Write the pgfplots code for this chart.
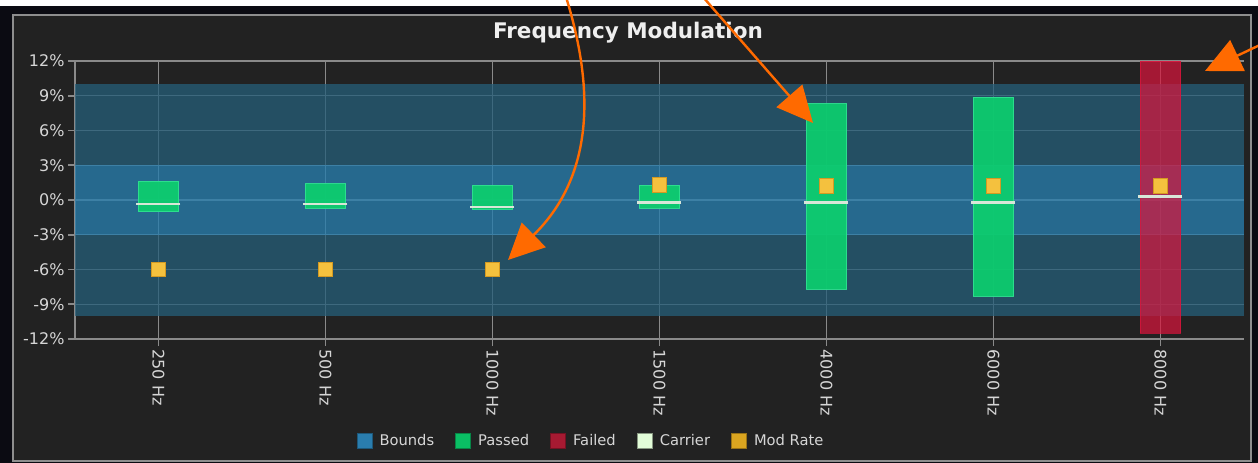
\documentclass[border=0pt]{standalone}
\usepackage{pgfplots}
\pgfplotsset{compat=1.18}
\usepackage{pgfplotstable}
\usepackage{fontspec}
\setmainfont{DejaVu Sans}
\usetikzlibrary{arrows.meta}

\definecolor{bgdark}{HTML}{0B0B12}
\definecolor{panel}{HTML}{222222}
\definecolor{framegray}{HTML}{8E8E8E}
\definecolor{gridgray}{HTML}{8A8A8A}
\definecolor{outerband}{HTML}{255F7A}
\definecolor{innerband}{HTML}{287EAD}
\definecolor{passgreen}{HTML}{0CCF6E}
\definecolor{passedge}{HTML}{2FE090}
\definecolor{failred}{HTML}{DC143C}
\definecolor{carrierc}{HTML}{D8E6D8}
\definecolor{modfill}{HTML}{F4C13E}
\definecolor{moddraw}{HTML}{D49A22}
\definecolor{labelgray}{HTML}{D6D6D6}
\definecolor{titlec}{HTML}{EFEFEF}
\definecolor{annot}{HTML}{FF6A00}
\definecolor{legbounds}{HTML}{2A7DAE}
\definecolor{legpassed}{HTML}{0ABE64}
\definecolor{legfailed}{HTML}{A61A32}
\definecolor{legcarrier}{HTML}{E2FCD8}
\definecolor{legmod}{HTML}{DAA520}

\pgfplotstableread{
x lo hi carrier mod
0 -1.0 1.6 -0.35 -6.0
1 -0.7 1.4 -0.35 -6.0
2 -0.8 1.3 -0.60 -6.0
3 -0.7 1.3 -0.25 1.3
4 -7.7 8.3 -0.25 1.2
5 -8.3 8.9 -0.25 1.2
6 -11.5 12.0 0.30 1.2
}\datatable

\pgfplotsset{
  sqlegend/.style={legend image code/.code={%
      \draw[##1, line width=1pt] (0pt,-7.5pt) rectangle (15pt,7.5pt);}},
}

\begin{document}
\begin{tikzpicture}[x=1pt,y=1pt]
\useasboundingbox (0,0) rectangle (1258,463);
\fill[white] (0,0) rectangle (1258,463);
\fill[bgdark] (0,0) rectangle (1258,457);
\draw[framegray, line width=2pt, fill=panel] (13,2) rectangle (1251,448);

\begin{axis}[
  at={(75pt,124pt)}, anchor=south west,
  scale only axis, width=1169pt, height=278pt,
  xmin=-0.5, xmax=6.5, ymin=-12, ymax=12,
  xtick={0,1,2,3,4,5,6},
  xticklabels={250 Hz,500 Hz,1000 Hz,1500 Hz,4000 Hz,6000 Hz,8000 Hz},
  ytick={-12,-9,-6,-3,0,3,6,9,12},
  yticklabel={\pgfmathprintnumber{\tick}\%},
  /pgf/number format/assume math mode=true,
  axis x line*=bottom, axis y line*=left,
  axis line style={gridgray, line width=1.6pt, -},
  tick style={gridgray, line width=1.6pt},
  tick align=outside, major tick length=7pt,
  grid=major, major grid style={gridgray, line width=1.4pt},
  tick label style={text=labelgray, font=\fontsize{16}{19}\selectfont},
  x tick label style={rotate=-90, anchor=west},
  title={Frequency Modulation},
  title style={at={(0.473,1)}, anchor=center, yshift=22pt, text=titlec,
    font=\bfseries\fontsize{21.5}{25}\selectfont},
  legend columns=5,
  legend style={at={(0.4414,-0.367)}, anchor=center, draw=none, fill=none,
    text=labelgray, font=\fontsize{14.7}{17}\selectfont,
    /tikz/every odd column/.append style={column sep=5pt},
    /tikz/every even column/.append style={column sep=19pt}},
  legend cell align=left,
  clip=true,
]
% bounds bands
\addplot[forget plot, draw=none, fill=outerband, fill opacity=0.75] coordinates {(-0.5,3) (6.5,3) (6.5,10) (-0.5,10)} -- cycle;
\addplot[forget plot, draw=none, fill=outerband, fill opacity=0.75] coordinates {(-0.5,-10) (6.5,-10) (6.5,-3) (-0.5,-3)} -- cycle;
\addplot[forget plot, draw=none, fill=innerband, fill opacity=0.78] coordinates {(-0.5,-3) (6.5,-3) (6.5,3) (-0.5,3)} -- cycle;
% passed bars
\addplot[forget plot, fill=passgreen, draw=passedge, line width=0.8pt, opacity=0.92] coordinates {(-0.12,-1.0) (0.12,-1.0) (0.12,1.6) (-0.12,1.6)} -- cycle;
\addplot[forget plot, fill=passgreen, draw=passedge, line width=0.8pt, opacity=0.92] coordinates {(0.88,-0.7) (1.12,-0.7) (1.12,1.4) (0.88,1.4)} -- cycle;
\addplot[forget plot, fill=passgreen, draw=passedge, line width=0.8pt, opacity=0.92] coordinates {(1.88,-0.8) (2.12,-0.8) (2.12,1.3) (1.88,1.3)} -- cycle;
\addplot[forget plot, fill=passgreen, draw=passedge, line width=0.8pt, opacity=0.92] coordinates {(2.88,-0.7) (3.12,-0.7) (3.12,1.3) (2.88,1.3)} -- cycle;
\addplot[forget plot, fill=passgreen, draw=passedge, line width=0.8pt, opacity=0.92] coordinates {(3.88,-7.7) (4.12,-7.7) (4.12,8.3) (3.88,8.3)} -- cycle;
\addplot[forget plot, fill=passgreen, draw=passedge, line width=0.8pt, opacity=0.92] coordinates {(4.88,-8.3) (5.12,-8.3) (5.12,8.9) (4.88,8.9)} -- cycle;
% failed bar
\addplot[forget plot, fill=failred, draw=failred, line width=0.8pt, opacity=0.7] coordinates {(5.88,-11.5) (6.12,-11.5) (6.12,12) (5.88,12)} -- cycle;
% carrier
\addplot[forget plot, only marks, mark=-, mark size=22pt, line width=2.8pt, color=carrierc] table[x=x, y=carrier] {\datatable};
% mod rate
\addplot[forget plot, only marks, mark=square*, mark size=7.2pt, mark options={fill=modfill, draw=moddraw, line width=1.2pt}] table[x=x, y=mod] {\datatable};

\addlegendimage{sqlegend, fill=legbounds, draw=legbounds!70!black}
\addlegendentry{Bounds}
\addlegendimage{sqlegend, fill=legpassed, draw=legpassed!70!black}
\addlegendentry{Passed}
\addlegendimage{sqlegend, fill=legfailed, draw=legfailed!70!black}
\addlegendentry{Failed}
\addlegendimage{sqlegend, fill=legcarrier, draw=legcarrier!60!black}
\addlegendentry{Carrier}
\addlegendimage{sqlegend, fill=legmod, draw=legmod!70!black}
\addlegendentry{Mod Rate}
\end{axis}

% annotation arrows
\draw[annot, line width=2.4pt, -{Triangle[length=36pt,width=34pt]}]
  (566,466) .. controls (596,370) and (592,285) .. (508,203);
\draw[annot, line width=2.4pt, -{Triangle[length=36pt,width=34pt]}]
  (703,466) -- (813,340);
\draw[annot, line width=2.4pt, -{Triangle[length=36pt,width=34pt]}]
  (1262,419) -- (1205,392);
\end{tikzpicture}
\end{document}
